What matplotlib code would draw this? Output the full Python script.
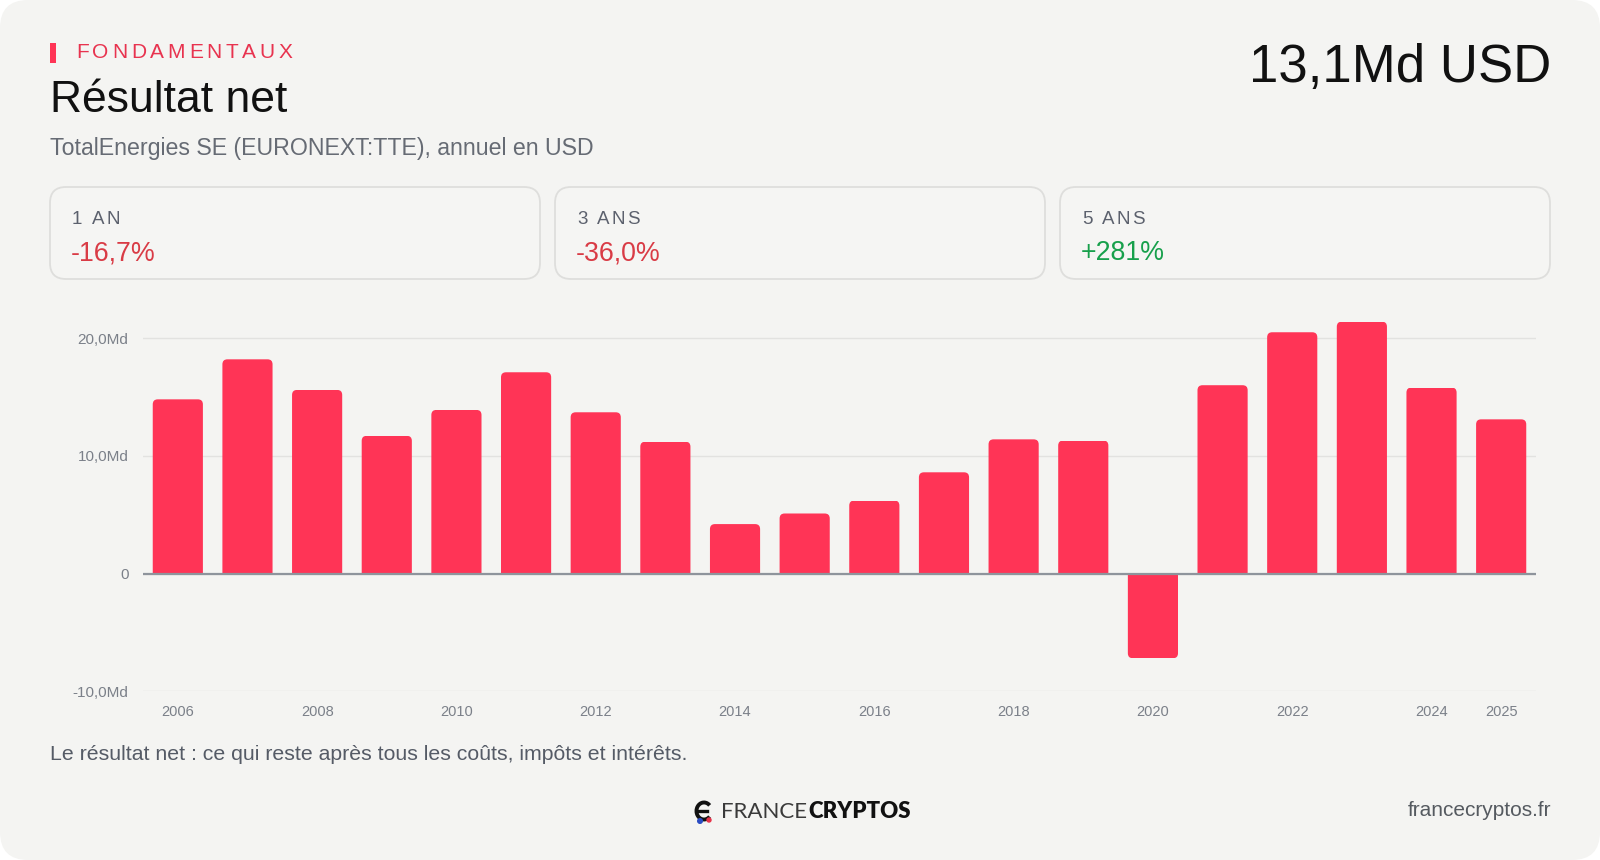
import numpy as np
import matplotlib
matplotlib.use("Agg")
import matplotlib.pyplot as plt
from matplotlib.patches import FancyBboxPatch, Rectangle, Arc, Circle

plt.rcParams['font.family'] = ['Liberation Sans', 'DejaVu Sans']

W, H = 1600, 860

# data (Md USD)
years = list(range(2006, 2026))
net_income = [14.8, 18.2, 15.6, 11.7, 13.9, 17.1, 13.7, 11.2, 4.2, 5.1,
              6.2, 8.6, 11.4, 11.3, -7.2, 16.0, 20.5, 21.4, 15.8, 13.1]
tick_years = [2006, 2008, 2010, 2012, 2014, 2016, 2018, 2020, 2022, 2024, 2025]
y_ticks = [-10, 0, 10, 20]
y_tick_labels = ["-10,0Md", "0", "10,0Md", "20,0Md"]

stat_labels = ["1 AN", "3 ANS", "5 ANS"]
stat_values = ["-16,7%", "-36,0%", "+281%"]
stat_colors = ["#d93b45", "#d93b45", "#17a04b"]

kicker = "FONDAMENTAUX"
title = "Résultat net"
subtitle = "TotalEnergies SE (EURONEXT:TTE), annuel en USD"
headline = "13,1Md USD"
note = "Le résultat net : ce qui reste après tous les coûts, impôts et intérêts."
site = "francecryptos.fr"

BAR = "#ff3456"
CARD = "#f4f4f2"

fig = plt.figure(figsize=(16, 8.6), dpi=100, facecolor="white")
renderer = fig.canvas.get_renderer()

# background layer in pixel coords (y down)
bg = fig.add_axes([0, 0, 1, 1], zorder=0)
bg.set_xlim(0, W)
bg.set_ylim(H, 0)
bg.axis("off")
bg.add_patch(FancyBboxPatch((0, 0), W, H, boxstyle="round,pad=0,rounding_size=28",
                            fc=CARD, ec="none"))


def spaced_text(x, y, s, spacing, **kw):
    # draw text char by char to get letter spacing
    for ch in s:
        t = bg.text(x, y, ch, va="center", ha="left", **kw)
        if ch == " ":
            w = kw.get("fontsize", 12) * 100 / 72 * 0.28
        else:
            w = t.get_window_extent(renderer=renderer).width
        x += w + spacing


# header
bg.add_patch(Rectangle((50, 43), 6, 20, fc=BAR, ec="none"))
spaced_text(76, 53, kicker, 3.7, fontsize=15, color="#e8334f")
bg.text(50, 100, title, fontsize=32, color="#111111", va="center", ha="left")
bg.text(50, 149, subtitle, fontsize=16.7, color="#666b74", va="center", ha="left")
bg.text(1551, 68, headline, fontsize=38, color="#111111", va="center", ha="right")

# stat boxes
box_x = [50, 555, 1060]
for bx, lab, val, col in zip(box_x, stat_labels, stat_values, stat_colors):
    bg.add_patch(FancyBboxPatch((bx, 187), 490, 92, boxstyle="round,pad=0,rounding_size=16",
                                fc="#f5f5f3", ec="#dededc", lw=1.3))
    spaced_text(bx + 22, 219, lab, 2.0, fontsize=13.5, color="#5c616d")
    bg.text(bx + 21, 253, val, fontsize=19.3, color=col, va="center", ha="left")

# chart
ax_left, ax_right, ax_top, ax_bot = 143, 1536, 314.6, 691.2
ax = fig.add_axes([ax_left / W, 1 - ax_bot / H, (ax_right - ax_left) / W, (ax_bot - ax_top) / H],
                  zorder=1)
ax.patch.set_alpha(0)
x = np.arange(len(years))
ax.set_xlim(-0.5, len(years) - 0.5)
ax.set_ylim(-10, 22)

px_x = (ax_right - ax_left) / len(years)
px_y = (ax_bot - ax_top) / 32
rx = 5 / px_x
ry = 5 / px_y
bw = 0.72
for xi, v in zip(x, net_income):
    # rounded bar that runs past the zero line, clipped so only the outer end is rounded
    sgn = 1 if v >= 0 else -1
    y0 = min(-sgn * 2 * ry, v)
    h = abs(v) + 2 * ry
    p = FancyBboxPatch((xi - bw / 2, y0), bw, h,
                       boxstyle=f"round,pad=0,rounding_size={rx}",
                       mutation_aspect=ry / rx, fc=BAR, ec="none", zorder=2)
    ax.add_patch(p)
    clip = Rectangle((xi - bw / 2 - 0.1, 0), bw + 0.2, v, transform=ax.transData)
    p.set_clip_path(clip)

ax.axhline(0, color="#8e949c", lw=1.6, zorder=3)
ax.set_yticks(y_ticks)
ax.set_yticklabels(y_tick_labels)
ax.set_xticks([years.index(y) for y in tick_years])
ax.set_xticklabels([str(y) for y in tick_years])
ax.grid(axis="y", color="#e2e2e0", lw=1.0)
ax.set_axisbelow(True)
for s in ax.spines.values():
    s.set_visible(False)
ax.tick_params(axis="y", length=0, labelsize=11, labelcolor="#7b8089", pad=10.4)
ax.tick_params(axis="x", length=0, labelsize=10.5, labelcolor="#7b8089", pad=9.7)

# note and footer
bg.text(50, 754, note, fontsize=15.35, color="#555b66", va="center", ha="left")
bg.text(1551, 811, site, fontsize=15, color="#555a60", va="center", ha="right")

# logo
bg.add_patch(Arc((704, 811), 15, 17, theta1=45, theta2=315, lw=2.8, color="#111111"))
bg.plot([699, 707], [811, 811], color="#111111", lw=2.4)
bg.add_patch(Circle((700, 821), 2.3, color="#2a4bc2"))
bg.add_patch(Circle((709, 820), 2.0, color="#e8334a"))
bg.text(721, 812, "FRANCE", fontsize=16, color="#3a3a3a", va="center", ha="left",
        family=["Lato", "DejaVu Sans"], fontweight="normal")
bg.text(808, 812, "CRYPTOS", fontsize=16, color="#111111", va="center", ha="left",
        family=["Lato", "DejaVu Sans"], fontweight="heavy")

fig.savefig("out.png", dpi=100, facecolor="white")
